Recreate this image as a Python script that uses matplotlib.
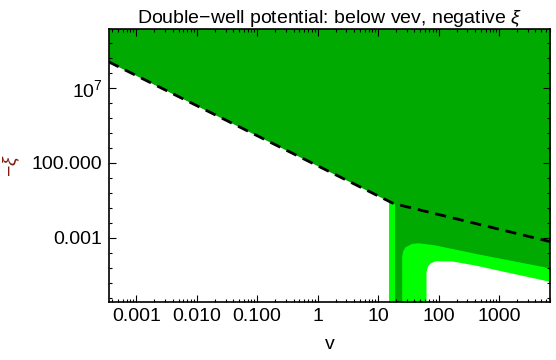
import matplotlib
matplotlib.use("Agg")
import matplotlib.pyplot as plt
from matplotlib.ticker import FixedLocator, LogLocator, NullFormatter

plt.rcParams['font.family'] = ['Liberation Sans', 'DejaVu Sans']
plt.rcParams['mathtext.fontset'] = 'custom'
plt.rcParams['mathtext.rm'] = 'Liberation Sans'
plt.rcParams['mathtext.it'] = 'Liberation Sans:italic'

# dashed boundary (v, -xi)
dash_v = [3.5e-4, 18.0, 7.1e3]
dash_xi = [5.4e8, 0.19, 5.4e-4]

# vertical strip edges near v ~ 15-25
strip_v = [15.4, 19.1, 24.6]

# top of the light green band (lower right)
band_v = [24.6, 24.6, 25.4, 27.9, 36.1, 46.4, 87.5, 401.0, 7.1e3]
band_xi = [1e-9, 5.4e-5, 1.3e-4, 2.5e-4, 4.2e-4, 4.6e-4, 3.3e-4, 9.1e-5, 9.5e-6]

# top of the white (excluded) region, lower right
white_v = [62.1, 62.1, 65.8, 72.4, 87.5, 167.0, 401.0, 7.1e3]
white_xi = [1e-9, 5.4e-6, 1.3e-5, 2.0e-5, 2.9e-5, 2.8e-5, 1.5e-5, 1.2e-6]

xticks = [1e-3, 1e-2, 1e-1, 1, 10, 100, 1000]
xticklabels = ['0.001', '0.010', '0.100', '1', '10', '100', '1000']
yticks = [1e-3, 1e2, 1e7]
yticklabels = ['0.001', '100.000', r'$10^7$']

dark = '#00aa00'
light = '#00ff00'

fig = plt.figure(figsize=(5.56, 3.6), dpi=100)
ax = fig.add_axes([0.1955, 0.162, 0.7945, 0.7566])
ax.set_xscale('log')
ax.set_yscale('log')
xmin, xmax = 3.5e-4, 7.1e3
ymin, ymax = 5.4e-8, 8e10

ax.axvspan(strip_v[0], xmax, color=light, lw=0)
ax.axvspan(strip_v[1], xmax, color=dark, lw=0)
ax.fill_between(band_v, 1e-9, band_xi, color=light, lw=0)
ax.fill_between(white_v, 1e-9, white_xi, color='white', lw=0)
ax.fill_between(dash_v, dash_xi, 1e12, color=dark, lw=0)
ax.plot(dash_v, dash_xi, color='black', lw=2.0, ls=(0, (4, 2.5)))

ax.set_xlim(xmin, xmax)
ax.set_ylim(ymin, ymax)

ax.xaxis.set_major_locator(FixedLocator(xticks))
ax.set_xticklabels(xticklabels)
ax.xaxis.set_minor_locator(LogLocator(base=10, subs=range(2, 10), numticks=50))
ax.xaxis.set_minor_formatter(NullFormatter())
ax.yaxis.set_major_locator(FixedLocator(yticks))
ax.set_yticklabels(yticklabels)
ax.yaxis.set_minor_locator(LogLocator(base=10, subs=(1.0,), numticks=50))
ax.yaxis.set_minor_formatter(NullFormatter())

ax.tick_params(which='both', direction='in', top=True, right=True, labelsize=14, width=0.8)
ax.tick_params(which='major', length=5, pad=4.5)
ax.tick_params(which='minor', length=2.5)
for s in ax.spines.values():
    s.set_linewidth(1.2)

ax.set_title('Double\u2212well potential: below vev, negative $\\xi$', fontsize=14, pad=4)
ax.set_xlabel('v', fontsize=14, labelpad=8)
ax.set_ylabel('\u2212$\\xi$', fontsize=14, color='#7f1d0f', labelpad=7)

fig.savefig('out.png', dpi=100)
